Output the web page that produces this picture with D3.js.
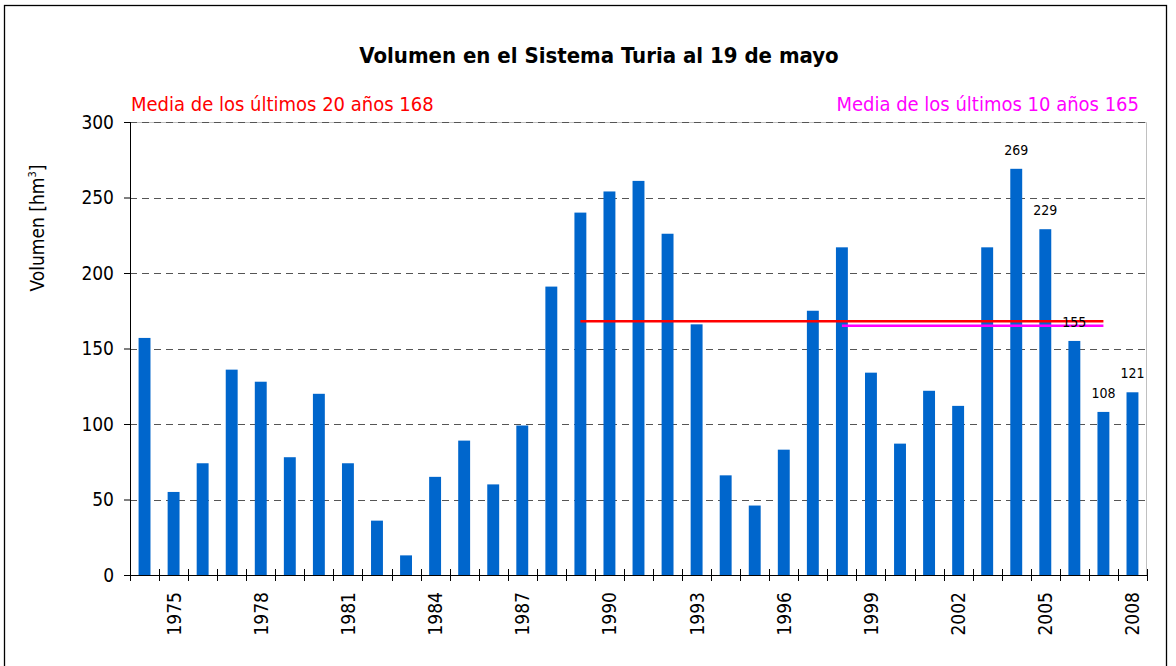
<!DOCTYPE html>
<meta charset="utf-8">
<script src="https://d3js.org/d3.v7.min.js"></script>
<body style="margin:0;background:#fff;">
<svg id="chart" width="1176" height="666"></svg>
<script>
  // data
  const years = d3.range(1974, 2009);
  const volumes = [157, 55, 74, 136, 128, 78, 120, 74, 36, 13,
                   65, 89, 60, 99, 191, 240, 254, 261, 226, 166,
                   66, 46, 83, 175, 217, 134, 87, 122, 112, 217,
                   269, 229, 155, 108, 121];
  const labelled = [2004, 2005, 2006, 2007, 2008];
  const yTicks = [0, 50, 100, 150, 200, 250, 300];
  const media20 = 168, media10 = 165;
  const media20Years = [1989, 2007];
  const media10Years = [1998, 2007];

  const font = "'DejaVu Sans Condensed', 'DejaVu Sans', sans-serif";
  const svg = d3.select("#chart").style("font-family", font);

  const pLeft = 130, pRight = 1147, pTop = 122, pBottom = 575;

  // outer frame
  svg.append("rect")
    .attr("x", 4.5).attr("y", 5.5)
    .attr("width", 1162).attr("height", 700)
    .attr("fill", "none").attr("stroke", "#000").attr("stroke-width", 1.3);

  let x = d3.scaleBand().domain(years).range([pLeft, pRight]).paddingInner(0.59).paddingOuter(0.295);
  let band = d3.scaleBand().domain(years).range([pLeft, pRight]);
  let y = d3.scaleLinear().domain([0, 300]).range([pBottom, pTop]);

  // plot area border (light grey top/right)
  svg.append("path")
    .attr("d", `M${pLeft},${pTop + 0.5}H${pRight - 0.5}V${pBottom}`)
    .attr("fill", "none").attr("stroke", "#c0c0c0").attr("stroke-width", 1);

  // grid
  svg.append("g").selectAll("line")
    .data(yTicks.filter(d => d > 0))
    .join("line")
    .attr("x1", pLeft).attr("x2", pRight - 1)
    .attr("y1", d => Math.round(y(d)) + 0.5).attr("y2", d => Math.round(y(d)) + 0.5)
    .attr("stroke", "#555").attr("stroke-dasharray", "7,5");

  // bars
  svg.append("g").selectAll("rect")
    .data(years)
    .join("rect")
    .attr("x", d => x(d))
    .attr("width", x.bandwidth())
    .attr("y", (d, i) => y(volumes[i]))
    .attr("height", (d, i) => y(0) - y(volumes[i]))
    .attr("fill", "#0066cc");

  // mean lines
  svg.append("line")
    .attr("x1", band(media20Years[0]) + band.bandwidth() / 2)
    .attr("x2", band(media20Years[1]) + band.bandwidth() / 2)
    .attr("y1", y(media20)).attr("y2", y(media20))
    .attr("stroke", "#ff0000").attr("stroke-width", 2.5);
  svg.append("line")
    .attr("x1", band(media10Years[0]) + band.bandwidth() / 2)
    .attr("x2", band(media10Years[1]) + band.bandwidth() / 2)
    .attr("y1", y(media10)).attr("y2", y(media10))
    .attr("stroke", "#ff00ff").attr("stroke-width", 2.5);

  // value labels
  svg.append("g").selectAll("text")
    .data(labelled)
    .join("text")
    .attr("x", d => band(d) + band.bandwidth() / 2)
    .attr("y", d => y(volumes[years.indexOf(d)]) - 14)
    .attr("text-anchor", "middle")
    .attr("font-size", 14)
    .attr("fill", "#000")
    .text(d => volumes[years.indexOf(d)]);

  // y axis
  const yAxis = svg.append("g")
    .attr("transform", `translate(${pLeft},0)`)
    .call(d3.axisLeft(y).tickValues(yTicks).tickSize(6).tickPadding(10));
  yAxis.select(".domain").attr("stroke", "#000").attr("d", `M0.5,${pTop}V${pBottom}`);
  yAxis.selectAll(".tick line").attr("stroke", "#000");
  yAxis.selectAll(".tick text").attr("font-size", 19).attr("font-family", font).attr("fill", "#000");

  // x axis: ticks on band edges, labels every 3 years
  const xg = svg.append("g");
  xg.append("line")
    .attr("x1", pLeft).attr("x2", pRight)
    .attr("y1", pBottom + 0.5).attr("y2", pBottom + 0.5)
    .attr("stroke", "#000");
  xg.selectAll("line.tk")
    .data(years.concat([null]))
    .join("line")
    .attr("class", "tk")
    .attr("x1", (d, i) => Math.round(pLeft + i * band.bandwidth()) + 0.5)
    .attr("x2", (d, i) => Math.round(pLeft + i * band.bandwidth()) + 0.5)
    .attr("y1", pBottom - 6).attr("y2", pBottom + 6)
    .attr("stroke", "#000");
  xg.selectAll("text")
    .data(years.filter(d => (d - 1975) % 3 === 0))
    .join("text")
    .attr("transform", d => `translate(${band(d) + band.bandwidth() / 2 + 7},${pBottom + 17}) rotate(-90)`)
    .attr("text-anchor", "end")
    .attr("font-size", 19)
    .attr("fill", "#000")
    .text(d => d);

  // y label
  const yl = svg.append("text")
    .attr("transform", "translate(44,228) rotate(-90)")
    .attr("text-anchor", "middle")
    .attr("font-size", 19)
    .attr("fill", "#000");
  yl.append("tspan").text("Volumen [hm");
  yl.append("tspan").attr("font-size", 11).attr("dy", -8).text("3");
  yl.append("tspan").attr("dy", 8).text("]");

  // title
  svg.append("text")
    .attr("x", 599).attr("y", 63)
    .attr("text-anchor", "middle")
    .attr("font-size", 22).attr("font-weight", "bold")
    .text("Volumen en el Sistema Turia al 19 de mayo");

  // mean annotations
  svg.append("text")
    .attr("x", 131).attr("y", 111)
    .attr("font-size", 20).attr("fill", "#ff0000")
    .text("Media de los últimos 20 años " + media20);
  svg.append("text")
    .attr("x", 1139).attr("y", 111)
    .attr("text-anchor", "end")
    .attr("font-size", 20).attr("fill", "#ff00ff")
    .text("Media de los últimos 10 años " + media10);
</script>
</body>
